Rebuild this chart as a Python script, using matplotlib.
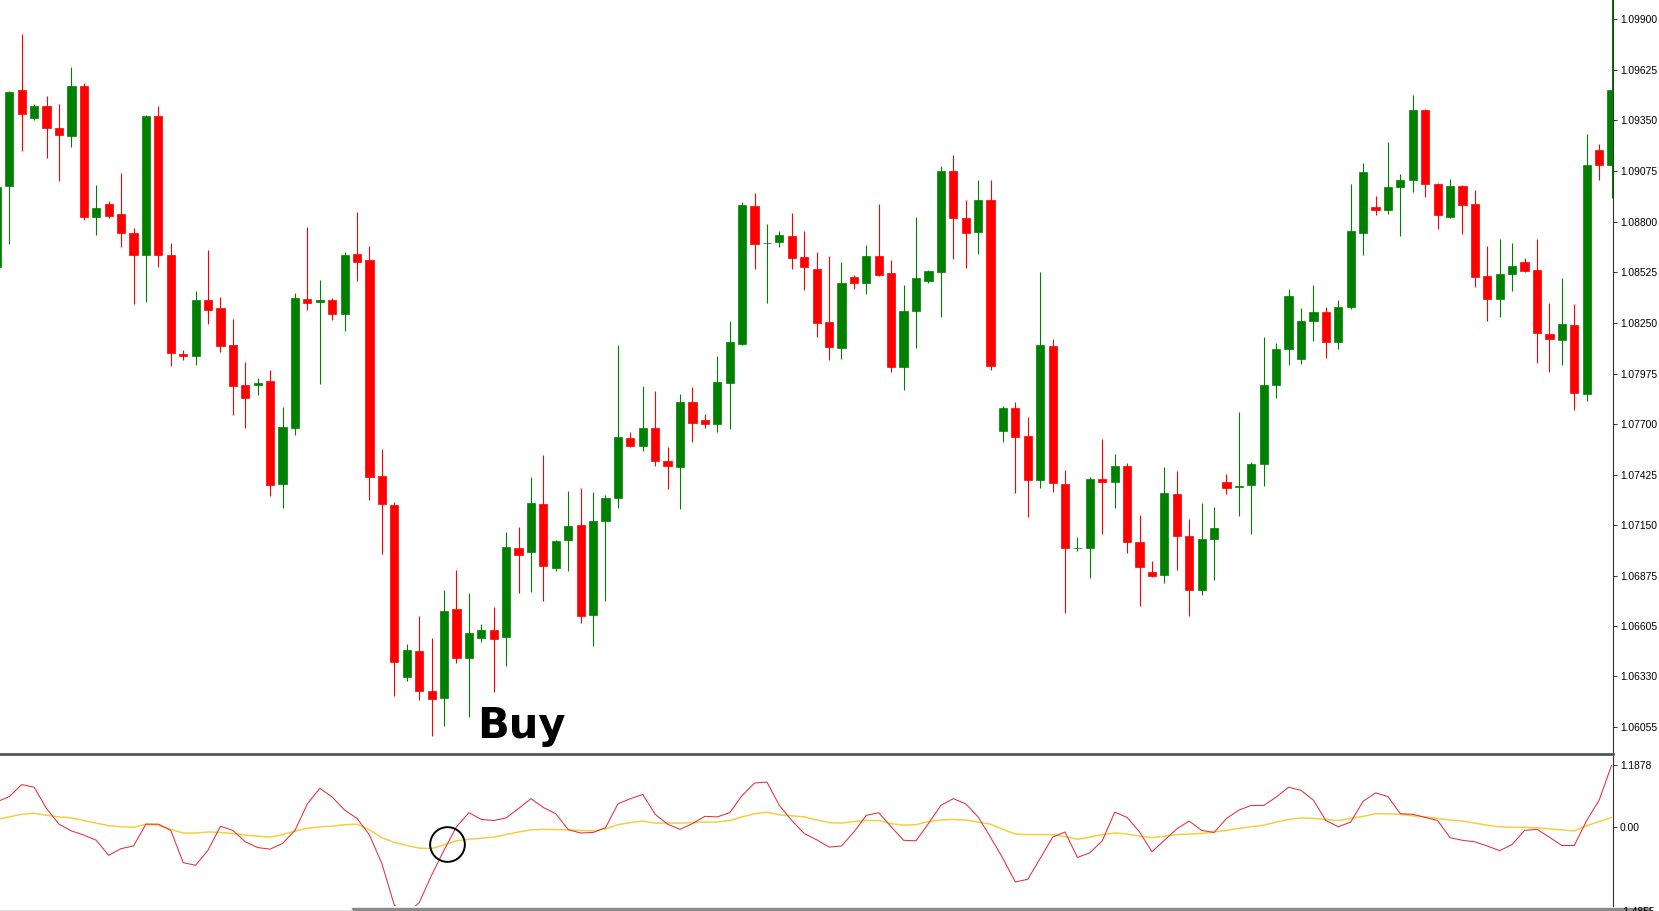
import numpy as np
import matplotlib
matplotlib.use("Agg")
import matplotlib.pyplot as plt
from matplotlib.patches import Rectangle

# --- Data: 131 bars ---
opens = [
    1.08553, 1.08993, 1.09514, 1.09362, 1.09427, 1.09308, 1.09265, 1.09536, 1.08825, 1.08895,
    1.08841, 1.08738, 1.08618, 1.09373, 1.08618, 1.08081, 1.08070, 1.08374, 1.08331, 1.08130,
    1.07912, 1.07912, 1.07934, 1.07375, 1.07679, 1.08379, 1.08363, 1.08374, 1.08298, 1.08624,
    1.08591, 1.07418, 1.07261, 1.06327, 1.06468, 1.06251, 1.06213, 1.06696, 1.06430, 1.06539,
    1.06582, 1.06544, 1.07027, 1.07006, 1.07266, 1.06919, 1.07071, 1.07152, 1.06664, 1.07174,
    1.07299, 1.07625, 1.07581, 1.07679, 1.07500, 1.07467, 1.07820, 1.07722, 1.07701, 1.07923,
    1.08135, 1.08884, 1.08681, 1.08689, 1.08722, 1.08607, 1.08542, 1.08255, 1.08113, 1.08499,
    1.08466, 1.08613, 1.08521, 1.08010, 1.08314, 1.08477, 1.08526, 1.09074, 1.08819, 1.08743,
    1.08917, 1.07663, 1.07788, 1.07636, 1.07397, 1.08124, 1.07375, 1.07025, 1.07027, 1.07402,
    1.07386, 1.07473, 1.07060, 1.06897, 1.06881, 1.07321, 1.07093, 1.06799, 1.07076, 1.07386,
    1.07359, 1.07369, 1.07483, 1.07912, 1.08108, 1.08054, 1.08260, 1.08309, 1.08146, 1.08336,
    1.08738, 1.08879, 1.08863, 1.08988, 1.09026, 1.09406, 1.09004, 1.08825, 1.08993, 1.08895,
    1.08504, 1.08379, 1.08515, 1.08580, 1.08537, 1.08189, 1.08157, 1.08238, 1.07864, 1.09189,
    1.09107,
]
highs = [
    1.09009, 1.09509, 1.09818, 1.09438, 1.09482, 1.09438, 1.09639, 1.09552, 1.08998, 1.08912,
    1.09064, 1.08765, 1.09379, 1.09427, 1.08683, 1.08103, 1.08423, 1.08646, 1.08390, 1.08271,
    1.08037, 1.07950, 1.07994, 1.07793, 1.08412, 1.08770, 1.08483, 1.08385, 1.08635, 1.08852,
    1.08667, 1.07565, 1.07277, 1.06506, 1.06658, 1.06539, 1.06799, 1.06908, 1.06783, 1.06615,
    1.06707, 1.07114, 1.07141, 1.07413, 1.07532, 1.07071, 1.07337, 1.07353, 1.07331, 1.07315,
    1.08130, 1.07657, 1.07907, 1.07880, 1.07576, 1.07864, 1.07902, 1.07755, 1.08070, 1.08260,
    1.08906, 1.08955, 1.08787, 1.08749, 1.08846, 1.08749, 1.08635, 1.08613, 1.08580, 1.08510,
    1.08673, 1.08895, 1.08591, 1.08455, 1.08825, 1.08537, 1.09102, 1.09161, 1.08917, 1.09026,
    1.09026, 1.07798, 1.07820, 1.07739, 1.08526, 1.08162, 1.07451, 1.07087, 1.07413, 1.07619,
    1.07538, 1.07489, 1.07207, 1.06957, 1.07467, 1.07445, 1.07185, 1.07272, 1.07250, 1.07429,
    1.07766, 1.07494, 1.08173, 1.08141, 1.08434, 1.08331, 1.08455, 1.08336, 1.08374, 1.09004,
    1.09118, 1.08939, 1.09232, 1.09058, 1.09487, 1.09411, 1.09009, 1.09031, 1.08998, 1.08971,
    1.08667, 1.08705, 1.08683, 1.08602, 1.08705, 1.08358, 1.08493, 1.08352, 1.09275, 1.09221,
    1.10046,
]
lows = [
    1.08548, 1.08678, 1.09183, 1.09351, 1.09145, 1.09020, 1.09205, 1.08808, 1.08727, 1.08819,
    1.08662, 1.08352, 1.08363, 1.08553, 1.08016, 1.08048, 1.08021, 1.08244, 1.08092, 1.07750,
    1.07679, 1.07858, 1.07310, 1.07245, 1.07641, 1.08320, 1.07918, 1.08265, 1.08206, 1.08477,
    1.07288, 1.06995, 1.06224, 1.06305, 1.06202, 1.06007, 1.06061, 1.06403, 1.06110, 1.06517,
    1.06245, 1.06387, 1.06783, 1.06788, 1.06740, 1.06902, 1.06902, 1.06620, 1.06495, 1.06740,
    1.07245, 1.07576, 1.07554, 1.07473, 1.07348, 1.07239, 1.07603, 1.07679, 1.07657, 1.07674,
    1.08130, 1.08542, 1.08358, 1.08662, 1.08542, 1.08428, 1.08173, 1.08048, 1.08054, 1.08434,
    1.08407, 1.08504, 1.07983, 1.07885, 1.08113, 1.08466, 1.08282, 1.08597, 1.08548, 1.08624,
    1.07994, 1.07603, 1.07326, 1.07196, 1.07353, 1.07331, 1.06674, 1.07011, 1.06864, 1.07103,
    1.07245, 1.07000, 1.06712, 1.06870, 1.06837, 1.06908, 1.06658, 1.06772, 1.06854, 1.07321,
    1.07201, 1.07103, 1.07364, 1.07842, 1.08021, 1.08026, 1.08151, 1.08059, 1.08108, 1.08325,
    1.08618, 1.08836, 1.08841, 1.08722, 1.08960, 1.08933, 1.08760, 1.08820, 1.08732, 1.08445,
    1.08260, 1.08282, 1.08423, 1.08526, 1.08032, 1.07983, 1.08021, 1.07777, 1.07826, 1.09026,
    1.08928,
]
closes = [
    1.08988, 1.09503, 1.09384, 1.09427, 1.09308, 1.09270, 1.09536, 1.08825, 1.08874, 1.08830,
    1.08738, 1.08618, 1.09373, 1.08618, 1.08086, 1.08070, 1.08374, 1.08320, 1.08124, 1.07907,
    1.07842, 1.07923, 1.07369, 1.07684, 1.08385, 1.08358, 1.08374, 1.08298, 1.08618, 1.08580,
    1.07413, 1.07266, 1.06408, 1.06474, 1.06251, 1.06207, 1.06685, 1.06430, 1.06566, 1.06582,
    1.06533, 1.07033, 1.06989, 1.07272, 1.06930, 1.07065, 1.07147, 1.06658, 1.07174, 1.07299,
    1.07630, 1.07581, 1.07679, 1.07500, 1.07473, 1.07820, 1.07706, 1.07701, 1.07929, 1.08146,
    1.08890, 1.08678, 1.08686, 1.08727, 1.08602, 1.08553, 1.08249, 1.08119, 1.08466, 1.08466,
    1.08613, 1.08510, 1.08010, 1.08314, 1.08493, 1.08531, 1.09074, 1.08819, 1.08738, 1.08917,
    1.08016, 1.07788, 1.07630, 1.07397, 1.08130, 1.07380, 1.07027, 1.07030, 1.07402, 1.07386,
    1.07473, 1.07060, 1.06924, 1.06875, 1.07326, 1.07093, 1.06799, 1.07076, 1.07136, 1.07353,
    1.07364, 1.07483, 1.07912, 1.08108, 1.08396, 1.08260, 1.08309, 1.08146, 1.08336, 1.08749,
    1.09069, 1.08863, 1.08988, 1.09026, 1.09406, 1.09004, 1.08836, 1.08993, 1.08890, 1.08499,
    1.08379, 1.08515, 1.08559, 1.08531, 1.08195, 1.08162, 1.08244, 1.07869, 1.09107, 1.09107,
    1.09514,
]

# oscillator (red) and its signal line (yellow)
osc = [
    0.49, 0.59, 0.82, 0.77, 0.36, 0.06, -0.07, -0.15, -0.25, -0.54,
    -0.41, -0.36, 0.06, 0.06, -0.06, -0.68, -0.73, -0.44, 0.02, -0.06,
    -0.28, -0.39, -0.42, -0.31, -0.06, 0.45, 0.75, 0.58, 0.33, 0.17,
    -0.15, -0.70, -1.50, -1.65, -1.45, -0.92, -0.44, 0.01, 0.28, 0.15,
    0.13, 0.18, 0.36, 0.55, 0.38, 0.26, -0.045, -0.11, -0.10, -0.01,
    0.45, 0.55, 0.63, 0.25, 0.06, -0.04, 0.07, 0.21, 0.20, 0.28,
    0.61, 0.85, 0.87, 0.42, 0.13, -0.12, -0.24, -0.38, -0.36, -0.09,
    0.23, 0.28, 0.01, -0.25, -0.26, 0.07, 0.42, 0.55, 0.45, 0.20,
    -0.19, -0.60, -1.05, -1.00, -0.60, -0.19, -0.09, -0.58, -0.49, -0.26,
    0.29, 0.19, -0.09, -0.47, -0.25, -0.03, 0.12, -0.06, -0.10, 0.17,
    0.33, 0.42, 0.42, 0.58, 0.77, 0.71, 0.52, 0.13, 0.01, 0.10,
    0.50, 0.66, 0.59, 0.26, 0.25, 0.19, 0.13, -0.20, -0.25, -0.28,
    -0.36, -0.45, -0.33, -0.06, -0.04, -0.19, -0.35, -0.35, 0.13, 0.52,
    1.1878,
]
signal = [
    0.15, 0.20, 0.25, 0.27, 0.23, 0.20, 0.18, 0.13, 0.08, 0.03,
    0.01, 0.00, 0.06, 0.04, -0.04, -0.11, -0.11, -0.09, -0.10, -0.12,
    -0.15, -0.17, -0.19, -0.14, -0.07, -0.02, 0.01, 0.02, 0.05, 0.06,
    -0.05, -0.20, -0.29, -0.35, -0.40, -0.41, -0.34, -0.26, -0.23, -0.21,
    -0.19, -0.14, -0.09, -0.05, -0.04, -0.045, -0.05, -0.06, -0.07, -0.03,
    0.05, 0.09, 0.12, 0.08, 0.08, 0.08, 0.09, 0.10, 0.10, 0.13,
    0.20, 0.26, 0.29, 0.24, 0.22, 0.20, 0.14, 0.09, 0.08, 0.11,
    0.13, 0.13, 0.07, 0.04, 0.05, 0.11, 0.14, 0.15, 0.14, 0.10,
    0.06, -0.04, -0.13, -0.14, -0.14, -0.14, -0.18, -0.23, -0.19, -0.14,
    -0.11, -0.13, -0.17, -0.20, -0.17, -0.14, -0.13, -0.12, -0.09, -0.06,
    -0.02, 0.01, 0.04, 0.10, 0.15, 0.18, 0.17, 0.15, 0.13, 0.17,
    0.21, 0.26, 0.26, 0.25, 0.22, 0.20, 0.17, 0.14, 0.12, 0.08,
    0.04, 0.01, 0.00, 0.00, -0.01, -0.03, -0.05, -0.07, 0.03, 0.11,
    0.19,
]

price_ticks = [1.09900, 1.09625, 1.09350, 1.09075, 1.08800, 1.08525, 1.08250,
               1.07975, 1.07700, 1.07425, 1.07150, 1.06875, 1.06605, 1.06330, 1.06055]
osc_ticks = [1.1878, 0.0]
osc_tick_labels = ["1.1878", "0.00"]
osc_min_label = "-1.4855"
buy_bar = 36  # bar where the oscillator crosses its signal line

GREEN = "#008000"
RED = "#ff0000"

plt.rcParams["font.family"] = ["Liberation Sans", "DejaVu Sans"]

W, H = 1659, 911
fig = plt.figure(figsize=(W / 100, H / 100), dpi=100)
axis_x = 1613 / W
ax = fig.add_axes([0, 157 / H, axis_x, 754 / H])
ax2 = fig.add_axes([0, 5 / H, axis_x, 150 / H])

o, h, l, c = (np.array(a) for a in (opens, highs, lows, closes))
x = np.arange(len(o))
col = np.where(c >= o, GREEN, RED)

# candles
ax.vlines(x, l, h, colors=col, linewidth=0.8, zorder=1)
ax.bar(x, np.maximum(np.abs(c - o), 0.00002), bottom=np.minimum(o, c),
       width=0.66, color=col, edgecolor=col, linewidth=0.5, zorder=2)

ax.set_xlim(0.25, 130.12)
ax.set_ylim(1.05909, 1.10003)
ax.set_xticks([])
ax.yaxis.tick_right()
ax.set_yticks(price_ticks)
ax.set_yticklabels([f"{t:.5f}" for t in price_ticks])
ax.tick_params(axis="y", direction="out", length=3, width=0.7, pad=2,
               labelsize=7.4, color="#333333")
for s in ("top", "left"):
    ax.spines[s].set_visible(False)
ax.spines["right"].set_color("#333333")
ax.spines["right"].set_linewidth(0.8)
ax.spines["bottom"].set_color("#555555")
ax.spines["bottom"].set_linewidth(2.0)

ax.text(477 / 1613, 16 / 754, "Buy", transform=ax.transAxes, fontsize=30,
        fontweight="bold", family="DejaVu Sans", ha="left", va="baseline",
        color="black")

# oscillator panel
ax2.plot(x, signal, color="#f4cf40", linewidth=1.1, zorder=2)
ax2.plot(x, osc, color="#e3303a", linewidth=0.75, zorder=3)

# circle at the crossover after the buy bar
d0 = osc[buy_bar] - signal[buy_bar]
d1 = osc[buy_bar + 1] - signal[buy_bar + 1]
t = d0 / (d0 - d1)
cx = buy_bar + t
cy = osc[buy_bar] + t * (osc[buy_bar + 1] - osc[buy_bar])
ax2.plot([cx], [cy], marker="o", markersize=25, markerfacecolor="none",
         markeredgecolor="black", markeredgewidth=1.4, zorder=4)

ax2.set_xlim(0.25, 130.12)
ax2.set_ylim(-1.513, 1.37)
ax2.set_xticks([])
ax2.yaxis.tick_right()
ax2.set_yticks(osc_ticks)
ax2.set_yticklabels(osc_tick_labels)
ax2.tick_params(axis="y", direction="out", length=3, width=0.7, pad=2,
                labelsize=7.4, color="#333333")
for s in ("top", "left", "bottom"):
    ax2.spines[s].set_visible(False)
ax2.spines["right"].set_color("#333333")
ax2.spines["right"].set_linewidth(0.8)

# min label of the panel, mostly cut off at the bottom edge
fig.text(1621 / W, -1 / H, osc_min_label, fontsize=7.4, ha="left", va="center")

# scrollbar strip along the bottom
fig.patches.append(Rectangle((352 / W, 0), (1650 - 352) / W, 3 / H,
                             transform=fig.transFigure, color="#8a8a8a"))
fig.patches.append(Rectangle((0, 0), 352 / W, 1.5 / H,
                             transform=fig.transFigure, color="#e2e2e2"))

fig.savefig("out.png", dpi=100)
